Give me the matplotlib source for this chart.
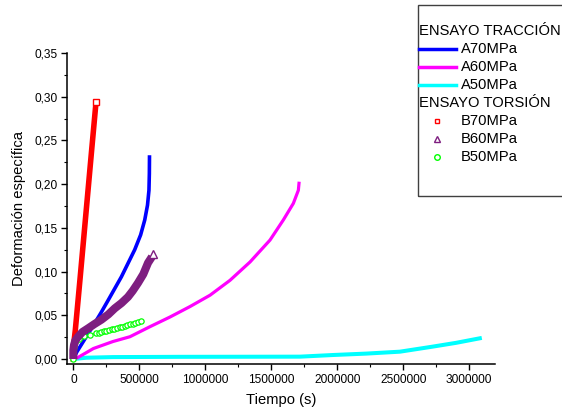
import matplotlib
matplotlib.use('Agg')
import matplotlib.pyplot as plt
from matplotlib.lines import Line2D
from matplotlib.patches import Rectangle
from matplotlib.ticker import MultipleLocator, FuncFormatter

plt.rcParams['font.family'] = ['Liberation Sans', 'DejaVu Sans']

# ENSAYO TRACCION
t_a70 = [0, 26000, 100000, 162000, 210000, 263000, 364000, 465000, 510000, 541000, 562000, 573000, 576000, 577000]
e_a70 = [0, 0.008, 0.026, 0.041, 0.053, 0.067, 0.094, 0.125, 0.142, 0.159, 0.176, 0.193, 0.212, 0.231]

t_a60 = [0, 26000, 152000, 300000, 429000, 581000, 732000, 884000, 1036000, 1187000, 1339000,
         1490000, 1591000, 1667000, 1705000, 1710000]
e_a60 = [0, 0.001, 0.012, 0.020, 0.0255, 0.037, 0.048, 0.060, 0.073, 0.090, 0.111,
         0.136, 0.159, 0.178, 0.193, 0.201]

t_a50 = [0, 100000, 300000, 800000, 1300000, 1717000, 1970000, 2220000, 2475000, 2720000, 2900000, 3080000]
e_a50 = [0, 0.0015, 0.0022, 0.0025, 0.0026, 0.0027, 0.0046, 0.0062, 0.0084, 0.0141, 0.0185, 0.0237]

# ENSAYO TORSION
t_b70 = [0, 2000, 15000, 51000, 100000, 140000, 172000]
e_b70 = [0, 0.016, 0.033, 0.092, 0.174, 0.241, 0.294]

t_b60 = [0, 0, 5000, 15000, 36000, 70000, 111000, 160000, 213000, 265000, 314000, 365000,
         414000, 450000, 490000, 530000, 566000, 596000]
e_b60 = [0, 0.010, 0.016, 0.021, 0.0255, 0.031, 0.035, 0.040, 0.045, 0.051, 0.058, 0.064,
         0.071, 0.078, 0.087, 0.097, 0.110, 0.117]

t_b50 = [0, 2000, 10000, 40000, 80000, 130000, 170000, 195000, 212000, 230000, 250000, 270000,
         290000, 310000, 330000, 350000, 370000, 390000, 410000, 430000, 450000, 470000, 490000, 515000]
e_b50 = [0, 0.014, 0.019, 0.023, 0.026, 0.028, 0.0295, 0.0303, 0.031, 0.0318, 0.0325, 0.0333,
         0.034, 0.0348, 0.0356, 0.0363, 0.037, 0.0378, 0.0386, 0.0395, 0.0405, 0.0415, 0.0425, 0.044]

W, H = 562, 412
fig = plt.figure(figsize=(W / 100, H / 100), dpi=100)
ax = fig.add_axes([67 / W, 1 - 364 / H, (495 - 67) / W, (364 - 53) / H])

ax.plot(t_a50, e_a50, color='#00FFFF', lw=2.9)
ax.plot(t_a60, e_a60, color='#FF00FF', lw=2.3)
ax.plot(t_a70, e_a70, color='#0000FF', lw=2.6)
ax.plot(t_b70, e_b70, color='#FF0000', lw=4)
ax.plot(t_b70[-1:], e_b70[-1:], 's', color='#FF0000', mfc='white', ms=4, mew=1)
ax.plot(t_b50, e_b50, color='#00FF00', lw=0.8, marker='o', mfc='white', ms=3.8, mew=0.9)
ax.plot(t_b60, e_b60, color='#7E1E80', lw=5.8, solid_capstyle='butt', solid_joinstyle='round')
ax.plot([601000], [0.120], '^', color='#7E1E80', mfc='white', ms=5.5, mew=1)

ax.set_xlim(-48000, 3195000)
ax.set_ylim(-0.0057, 0.35)
ax.xaxis.set_major_locator(MultipleLocator(500000))
ax.xaxis.set_minor_locator(MultipleLocator(250000))
ax.yaxis.set_major_locator(MultipleLocator(0.05))
ax.yaxis.set_minor_locator(MultipleLocator(0.025))
ax.xaxis.set_major_formatter(FuncFormatter(lambda v, p: '%d' % round(v)))
ax.yaxis.set_major_formatter(FuncFormatter(lambda v, p: ('%.2f' % v).replace('.', ',')))
ax.tick_params(which='major', direction='out', length=4, width=1, labelsize=8.6, pad=3)
ax.tick_params(which='minor', direction='out', length=2.5, width=0.8)
for s in ['top', 'right']:
    ax.spines[s].set_visible(False)
for s in ['left', 'bottom']:
    ax.spines[s].set_linewidth(1.1)

ax.set_xlabel('Tiempo (s)', fontsize=10.6, labelpad=5)
ax.set_ylabel('Deformación específica', fontsize=10.6, labelpad=6)

# legend box drawn by hand (pixel coords)
def fx(x):
    return x / W

def fy(y):
    return 1 - y / H

fig.add_artist(Rectangle((fx(418), fy(196)), fx(620) - fx(418), fy(5) - fy(196),
                         transform=fig.transFigure, fill=False, ec='#404040', lw=1))
fs = 10.6
fig.text(fx(419), fy(31), 'ENSAYO TRACCIÓN', fontsize=fs, va='center')
rows = [(49, '#0000FF', 'A70MPa'), (67, '#FF00FF', 'A60MPa'), (85, '#00FFFF', 'A50MPa')]
for y, c, lab in rows:
    fig.add_artist(Line2D([fx(419), fx(456)], [fy(y), fy(y)], color=c, lw=2.5, transform=fig.transFigure))
    fig.text(fx(461), fy(y), lab, fontsize=fs, va='center')
fig.text(fx(419), fy(103), 'ENSAYO TORSIÓN', fontsize=fs, va='center')
mrows = [(121, '#FF0000', 's', 'B70MPa', 3.5), (139, '#7E1E80', '^', 'B60MPa', 5), (157, '#00FF00', 'o', 'B50MPa', 4)]
for y, c, m, lab, ms in mrows:
    fig.add_artist(Line2D([fx(437)], [fy(y)], color=c, marker=m, mfc='white', ms=ms, mew=1,
                          ls='none', transform=fig.transFigure))
    fig.text(fx(461), fy(y), lab, fontsize=fs, va='center')

fig.savefig('out.png', dpi=100)
